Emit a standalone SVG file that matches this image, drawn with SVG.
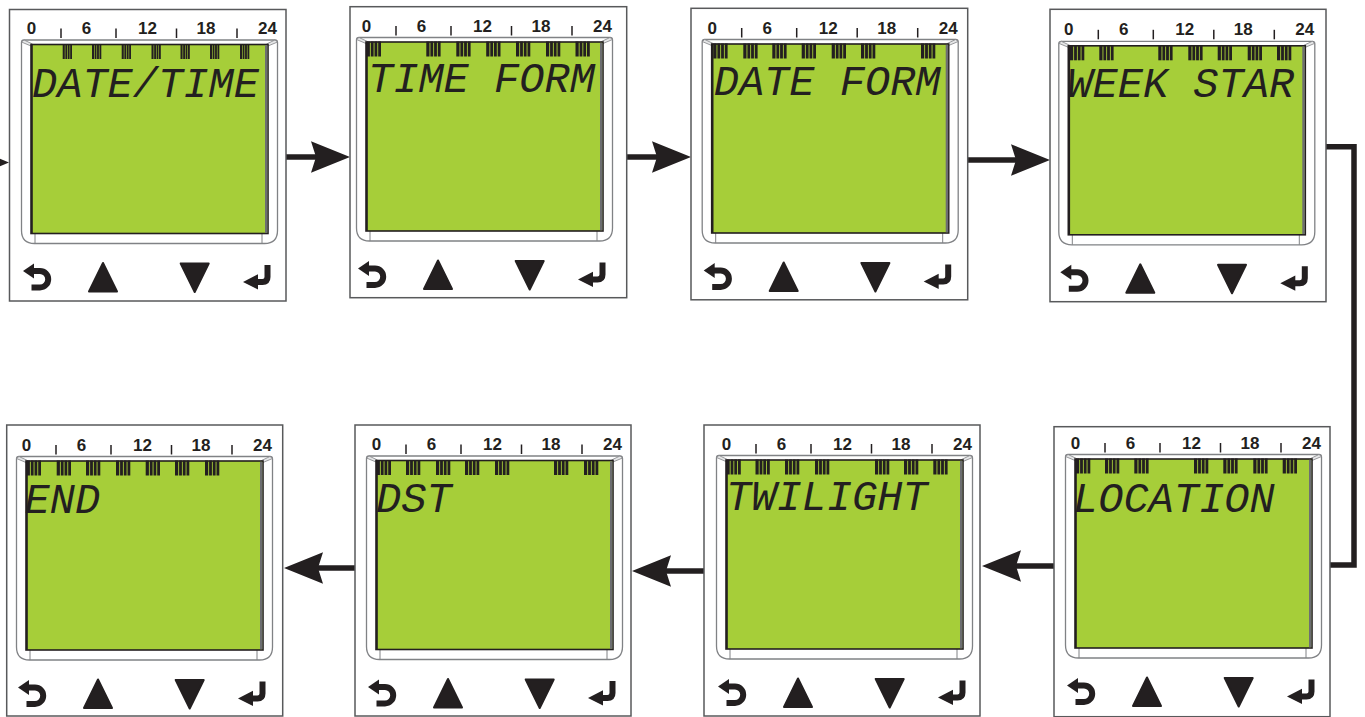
<svg xmlns="http://www.w3.org/2000/svg" xmlns:xlink="http://www.w3.org/1999/xlink" width="1365" height="717" viewBox="0 0 1365 717">
<style>
.frame{fill:#fff;stroke:#58595b;stroke-width:1.5}
.bezel{fill:#fff;stroke:#808285;stroke-width:1.3}
.bevel{fill:#e6e7e8;stroke:#808285;stroke-width:0.8}
.lcd{fill:#a6ce39;stroke:#231f20;stroke-width:1.6}
.scale{font-family:"Liberation Sans",Arial,sans-serif;font-weight:bold;font-size:17px;fill:#231f20;text-anchor:middle}
.tick{stroke:#231f20;stroke-width:1.5}
.ink{fill:#231f20}
.stk{fill:none;stroke:#231f20;stroke-width:6}
.seg{font-family:"Liberation Mono","DejaVu Sans Mono",monospace;font-style:italic;font-size:42px;fill:#231f20}
.conn{fill:none;stroke:#231f20;stroke-width:5.5}
</style>
<defs>
<g id="bars">
<rect x="0" y="-0.5" width="3.2" height="15"/>
<rect x="4.1" y="-0.5" width="2.8" height="15"/>
<rect x="7.8" y="-0.5" width="2.8" height="15"/>
<rect x="11.5" y="-0.5" width="2.8" height="15"/>
</g>
<g id="display">
<path class="bezel" d="M -9.5,-2 Q -9.5,-4.5 -7,-4.5 H 244 Q 246.5,-4.5 246.5,-2 V 186 Q 246.5,199 233.5,199 H 3.5 Q -9.5,199 -9.5,186 Z"/>
<polygon class="bevel" points="-9.5,-2.5 -7,-4.5 1.5,-0.5 0,1.5"/>
<polygon class="bevel" points="246.5,-2.5 244,-4.5 235.5,-0.5 237,1.5"/>
<line x1="4" y1="189" x2="4" y2="199" stroke="#808285" stroke-width="1"/>
<line x1="231" y1="189" x2="231" y2="199" stroke="#808285" stroke-width="1"/>
<rect class="lcd" x="0" y="0" width="237" height="189"/>
<rect x="234" y="0.8" width="2.5" height="187.5" fill="#6d6e71"/>
<rect x="0" y="0" width="1.8" height="189" fill="#231f20"/>
<g class="scale">
<text x="0.5" y="-10.5">0</text>
<text x="55.5" y="-10.5">6</text>
<text x="116.5" y="-10.5">12</text>
<text x="175" y="-10.5">18</text>
<text x="236.5" y="-10.5">24</text>
</g>
<g class="tick">
<line x1="30" y1="-16" x2="30" y2="-6.5"/>
<line x1="85" y1="-16" x2="85" y2="-6.5"/>
<line x1="145.5" y1="-16" x2="145.5" y2="-6.5"/>
<line x1="206" y1="-16" x2="206" y2="-6.5"/>
</g>
<path class="stk" d="M 2,226.5 H 9 A 8.2 8.2 0 0 1 9,242.9 H 0.5"/>
<polygon class="ink" points="-8,226.5 3,219 3,234"/>
<path class="ink" d="M 72,218.5 L 86,247 L 58,247 Z" stroke="#231f20" stroke-width="2" stroke-linejoin="round"/>
<path class="ink" d="M 149.7,219 L 177.7,219 L 163.7,247.5 Z" stroke="#231f20" stroke-width="2" stroke-linejoin="round"/>
<path class="stk" d="M 236.5,220.5 V 232.5 Q 236.5,237.4 231.5,237.4 H 225"/>
<polygon class="ink" points="212,237.4 227,229.8 227,245"/>
</g>
<path id="head" d="M 0,0 L -39,-15.8 L -34,0 L -39,15.8 Z" fill="#231f20"/>
</defs>

<g id="connectors">
<use href="#head" transform="translate(9,162.5)"/>
<line class="conn" x1="286" y1="157" x2="318" y2="157"/>
<use href="#head" transform="translate(350,157)"/>
<line class="conn" x1="627" y1="157" x2="659" y2="157"/>
<use href="#head" transform="translate(691,157)"/>
<line class="conn" x1="968" y1="160" x2="1018" y2="160"/>
<use href="#head" transform="translate(1050,160)"/>
<path class="conn" d="M 1326,146.7 H 1354 V 565 H 1330"/>
<line class="conn" x1="1054" y1="566" x2="1014" y2="566"/>
<use href="#head" transform="translate(982,566) rotate(180)"/>
<line class="conn" x1="704" y1="571" x2="664" y2="571"/>
<use href="#head" transform="translate(632,571) rotate(180)"/>
<line class="conn" x1="355" y1="568" x2="316" y2="568"/>
<use href="#head" transform="translate(284,568) rotate(180)"/>
</g>

<g id="p1" transform="translate(31,44.5)">
<rect class="frame" x="-21.5" y="-35" width="276.5" height="291.5"/>
<use href="#display"/>
<g class="ink">
<use href="#bars" transform="translate(31.7,0) scale(0.65,1)"/>
<use href="#bars" transform="translate(61,0) scale(0.65,1)"/>
<use href="#bars" transform="translate(90.7,0) scale(0.65,1)"/>
<use href="#bars" transform="translate(120.5,0) scale(0.65,1)"/>
<use href="#bars" transform="translate(149.5,0) scale(0.65,1)"/>
<use href="#bars" transform="translate(179,0) scale(0.65,1)"/>
<use href="#bars" transform="translate(209,0) scale(0.65,1)"/>
</g>
<text class="seg" x="1" y="52">DATE/TIME</text>
</g>

<g id="p2" transform="translate(366,42)">
<rect class="frame" x="-16" y="-35.3" width="276.7" height="291"/>
<use href="#display"/>
<g class="ink">
<use href="#bars" x="0.7"/>
<use href="#bars" x="60.3"/>
<use href="#bars" x="90.3"/>
<use href="#bars" x="120.2"/>
<use href="#bars" x="150"/>
<use href="#bars" x="180"/>
<use href="#bars" x="209.5"/>
</g>
<text class="seg" x="2" y="50">TIME FORM</text>
</g>

<g id="p3" transform="translate(711.7,44)">
<rect class="frame" x="-20.7" y="-35.7" width="276.7" height="291.5"/>
<use href="#display"/>
<g class="ink">
<use href="#bars" x="1.6"/>
<use href="#bars" x="31.6"/>
<use href="#bars" x="60.6"/>
<use href="#bars" x="90"/>
<use href="#bars" x="120"/>
<use href="#bars" x="149.3"/>
<use href="#bars" x="209.3"/>
</g>
<text class="seg" x="2" y="51">DATE FORM</text>
</g>

<g id="p4" transform="translate(1068.3,45.8)">
<rect class="frame" x="-18.3" y="-36.5" width="276" height="292.4"/>
<use href="#display"/>
<g class="ink">
<use href="#bars" x="1.7"/>
<use href="#bars" x="31"/>
<use href="#bars" x="90"/>
<use href="#bars" x="120"/>
<use href="#bars" x="149.4"/>
<use href="#bars" x="179.4"/>
<use href="#bars" x="208.7"/>
</g>
<text class="seg" x="-1" y="51">WEEK STAR</text>
</g>

<g id="p5" transform="translate(1075,459)">
<rect class="frame" x="-21" y="-32.3" width="276" height="290"/>
<use href="#display"/>
<g class="ink">
<use href="#bars" x="1"/>
<use href="#bars" x="30"/>
<use href="#bars" x="59.3"/>
<use href="#bars" x="119"/>
<use href="#bars" x="148.3"/>
<use href="#bars" x="178.3"/>
<use href="#bars" x="207.7"/>
</g>
<text class="seg" x="-2" y="52.5">LOCATION</text>
</g>

<g id="p6" transform="translate(726,460)">
<rect class="frame" x="-22" y="-35" width="276" height="291"/>
<use href="#display"/>
<g class="ink">
<use href="#bars" x="0.5"/>
<use href="#bars" x="29.5"/>
<use href="#bars" x="59"/>
<use href="#bars" x="89"/>
<use href="#bars" x="149"/>
<use href="#bars" x="178"/>
<use href="#bars" x="207.3"/>
</g>
<text class="seg" x="0" y="50">TWILIGHT</text>
</g>

<g id="p7" transform="translate(376,460.5)">
<rect class="frame" x="-21" y="-35.5" width="276" height="291"/>
<use href="#display"/>
<g class="ink">
<use href="#bars" x="0.7"/>
<use href="#bars" x="30"/>
<use href="#bars" x="60"/>
<use href="#bars" x="89"/>
<use href="#bars" x="119"/>
<use href="#bars" x="178"/>
<use href="#bars" x="208"/>
</g>
<text class="seg" x="0" y="51">DST</text>
</g>

<g id="p8" transform="translate(26,461)">
<rect class="frame" x="-19.3" y="-36" width="276" height="291"/>
<use href="#display"/>
<g class="ink">
<use href="#bars" x="0.7"/>
<use href="#bars" x="30.7"/>
<use href="#bars" x="60"/>
<use href="#bars" x="90"/>
<use href="#bars" x="119.7"/>
<use href="#bars" x="149"/>
<use href="#bars" x="179"/>
</g>
<text class="seg" x="-1.5" y="52">END</text>
</g>
</svg>
